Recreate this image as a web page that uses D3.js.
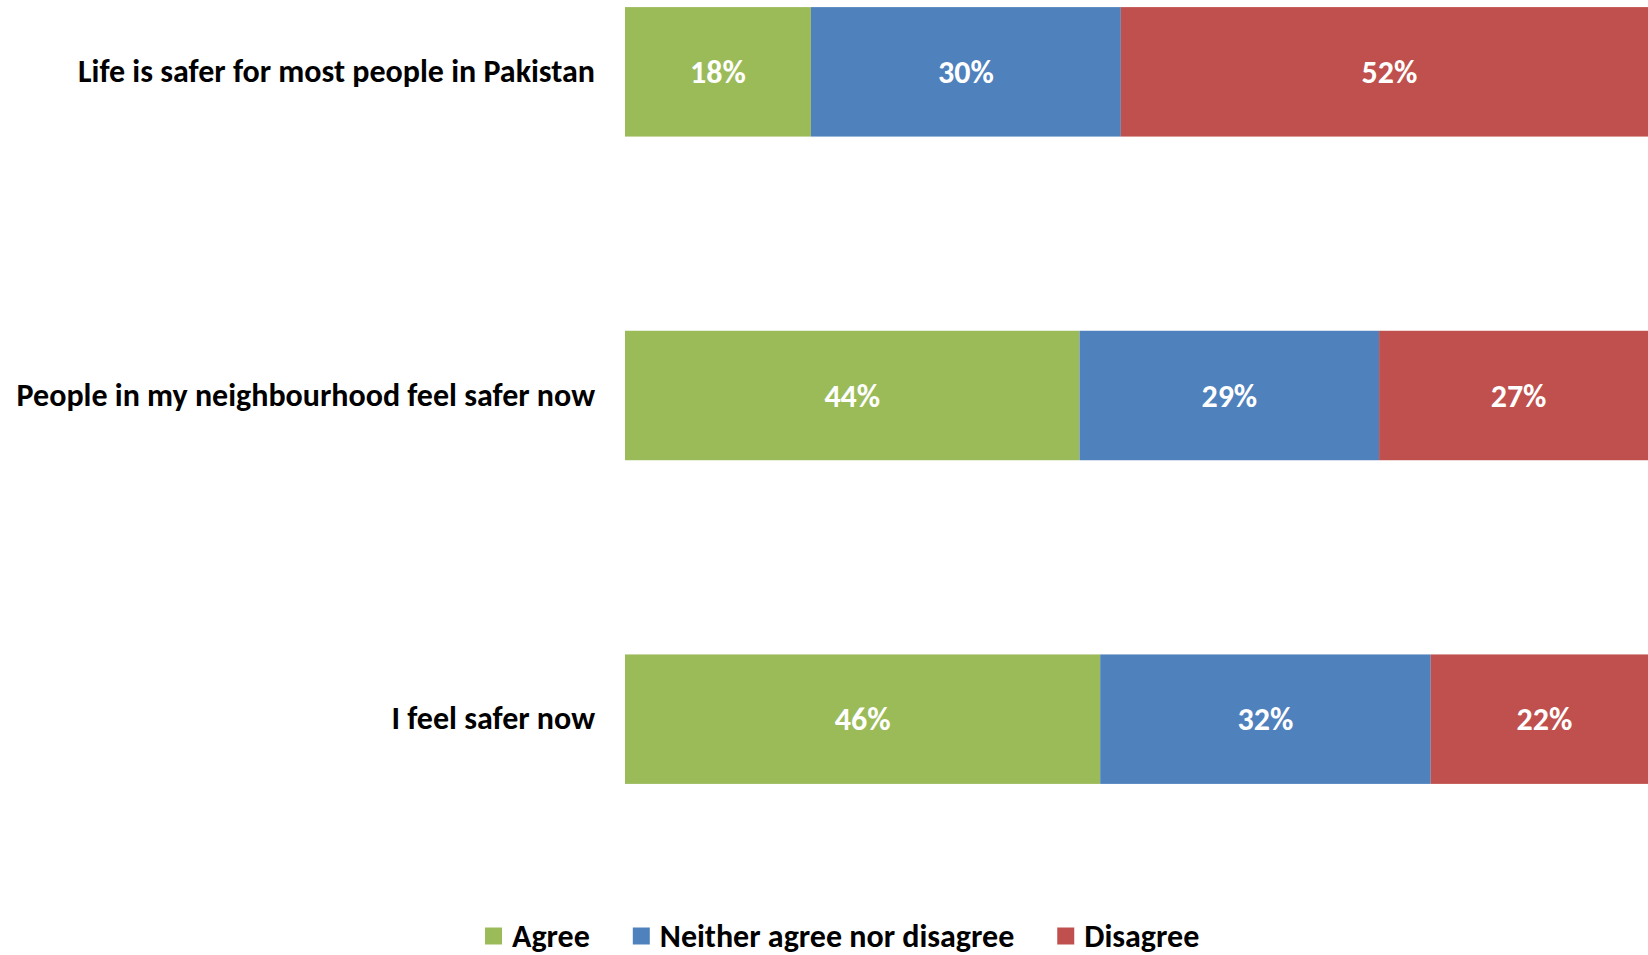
<!DOCTYPE html>
<html lang="en">
<head>
    <meta charset="UTF-8">
    <title>Safety perceptions</title>
    <script src="https://cdn.jsdelivr.net/npm/d3@7/dist/d3.min.js"></script>
    <style>
        body{margin:0;background:#fff;overflow:hidden;}
        text{font-family:Carlito,Calibri,Lato,"Open Sans",sans-serif;font-weight:700;}
    </style>
</head>
<body>
<svg></svg>
<script>
    // data
    var categories = ["Life is safer for most people in Pakistan",
                      "People in my neighbourhood feel safer now",
                      "I feel safer now"];
    var seriesNames = ["Agree","Neither agree nor disagree","Disagree"];
    var agree    = [18,44,46];
    var neither  = [30,29,32];
    var disagree = [52,27,22];
    var colors = ["#9BBB59","#4F81BD","#C0504D"];

    var width = 1648, height = 955;
    var fontSize = 32;
    var svg = d3.select("svg").attr("width",width).attr("height",height);

    //build rows for the stack
    var rows = categories.map(function(c,i){
        return {cat:c, "Agree":agree[i], "Neither agree nor disagree":neither[i], "Disagree":disagree[i]};
    });
    var stacked = d3.stack().keys(seriesNames)(rows);

    // chart is cut off at the right edge, 100% sits a bit past it
    var x = d3.scaleLinear().domain([0,100]).range([625,1658]);
    var y = d3.scaleBand().domain(categories).range([-90,881])
        .paddingInner(0.6).paddingOuter(0.3);
    var color = d3.scaleOrdinal().domain(seriesNames).range(colors);

    var layers = svg.append("g")
        .selectAll("g")
        .data(stacked)
        .enter()
        .append("g")
        .attr("fill",function(s){return color(s.key)});

    layers.selectAll("rect")
        .data(function(s){return s})
        .enter()
        .append("rect")
        .attr("x",function(d){return x(d[0])})
        .attr("y",function(d){return y(d.data.cat)})
        .attr("width",function(d){return x(d[1])-x(d[0])})
        .attr("height",y.bandwidth());

    //value labels
    layers.selectAll("text")
        .data(function(s){return s})
        .enter()
        .append("text")
        .attr("x",function(d){return (x(d[0])+x(d[1]))/2})
        .attr("y",function(d){return y(d.data.cat)+y.bandwidth()/2})
        .attr("dy","0.35em")
        .attr("text-anchor","middle")
        .attr("fill","#fff")
        .attr("font-size",fontSize)
        .text(function(d){return (d[1]-d[0])+"%"});

    //category axis, no line and no ticks
    var yAxis = svg.append("g")
        .attr("transform","translate(625,0)")
        .call(d3.axisLeft(y).tickSize(0).tickPadding(30));
    yAxis.select(".domain").remove();
    yAxis.attr("font-family",null).attr("font-size",null);
    yAxis.selectAll("text")
        .attr("font-size",fontSize)
        .attr("fill","#000");

    //legend
    var legend = svg.append("g").attr("transform","translate(0,936)");
    var lx = 485;
    seriesNames.forEach(function(name,i){
        var item = legend.append("g").attr("transform","translate("+lx+",0)");
        item.append("rect")
            .attr("x",0).attr("y",-8.5)
            .attr("width",17).attr("height",17)
            .attr("fill",colors[i]);
        var t = item.append("text")
            .attr("x",27)
            .attr("dy","0.35em")
            .attr("font-size",fontSize)
            .attr("fill","#000")
            .text(name);
        lx += 27 + t.node().getComputedTextLength() + 43;
    });
</script>
</body>
</html>
